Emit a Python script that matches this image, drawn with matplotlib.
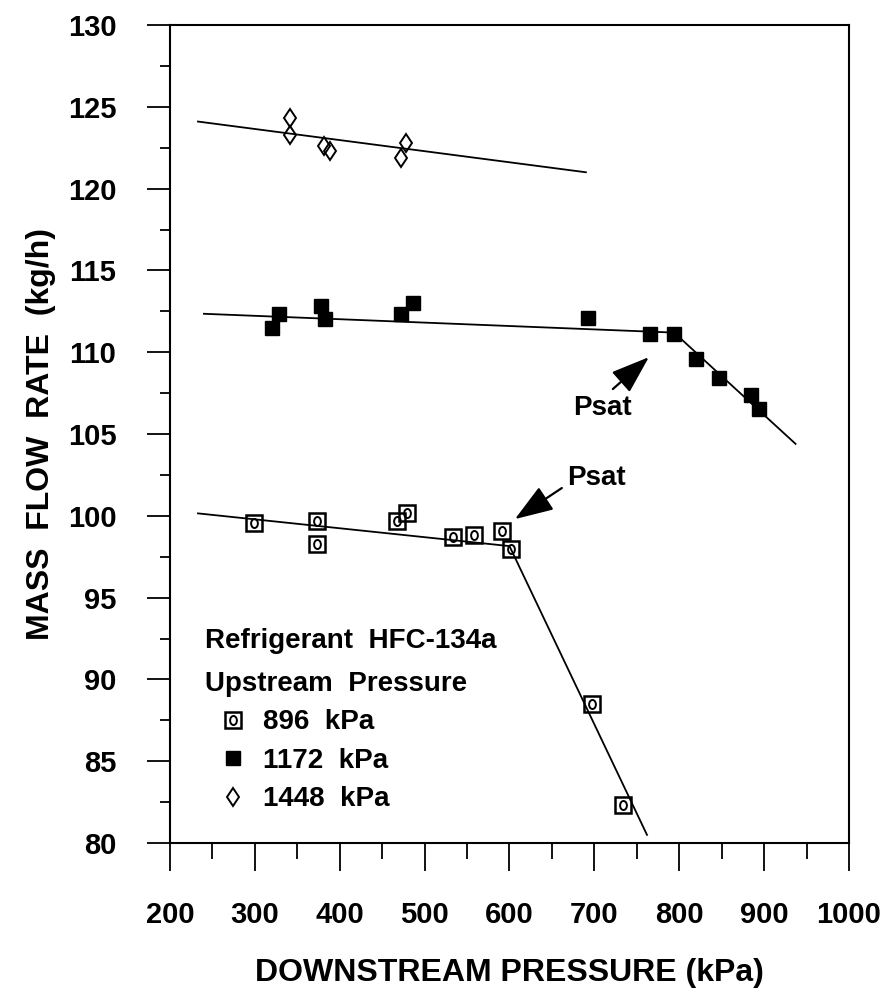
import matplotlib
matplotlib.use("Agg")
import matplotlib.pyplot as plt
from matplotlib.ticker import MultipleLocator
from matplotlib.markers import MarkerStyle
from matplotlib.transforms import Affine2D
from matplotlib.font_manager import FontProperties
from matplotlib.legend_handler import HandlerTuple

# measured points, upstream 896 kPa
p896_x = [299, 373, 373, 467, 479, 533, 558, 591, 602, 697, 734]
p896_y = [99.55, 99.7, 98.3, 99.7, 100.2, 98.7, 98.8, 99.05, 98.0, 88.5, 82.3]

# upstream 1172 kPa
p1172_x = [320, 328, 378, 383, 472, 486, 693, 766, 794, 820, 847, 885, 894]
p1172_y = [111.5, 112.35, 112.8, 112.05, 112.35, 113.0, 112.1, 111.1, 111.1,
           109.6, 108.4, 107.4, 106.5]

# upstream 1448 kPa
p1448_x = [342, 342, 381, 388, 472, 478]
p1448_y = [124.3, 123.3, 122.6, 122.3, 121.9, 122.8]

# fitted lines (break at Psat)
fit896_x = [233, 600, 762]
fit896_y = [100.15, 98.15, 80.5]
fit1172_x = [240, 794, 937]
fit1172_y = [112.35, 111.2, 104.4]
fit1448_x = [233, 690]
fit1448_y = [124.1, 121.0]

# Psat annotations: (text pos, arrow tail, arrow head)
psat_text = [(710, 106.6), (703, 102.3)]
psat_tail = [(721.8, 107.75), (661.7, 101.7)]
psat_head = [(764.2, 109.7), (606.4, 99.8)]

series_labels = ["896  kPa", "1172  kPa", "1448  kPa"]

plt.rcParams["font.family"] = ["Liberation Sans", "DejaVu Sans"]
plt.rcParams["font.weight"] = "bold"
plt.rcParams["axes.labelweight"] = "bold"

fig = plt.figure(figsize=(8.82, 10.01), dpi=100)
ax = fig.add_axes([0.1927, 0.1578, 0.7699, 0.8172])

lw_line = 1.3
ax.plot(fit896_x, fit896_y, color="black", lw=lw_line)
ax.plot(fit1172_x, fit1172_y, color="black", lw=lw_line)
ax.plot(fit1448_x, fit1448_y, color="black", lw=lw_line)

oval = MarkerStyle("o", transform=Affine2D().scale(0.75, 1.0))
h896a, = ax.plot(p896_x, p896_y, ls="none", marker="s", ms=12, mfc="none",
                 mec="black", mew=1.8)
h896b, = ax.plot(p896_x, p896_y, ls="none", marker=oval, ms=6.5, mfc="none",
                 mec="black", mew=1.4)
h1172, = ax.plot(p1172_x, p1172_y, ls="none", marker="s", ms=9.5,
                 color="black")
h1448, = ax.plot(p1448_x, p1448_y, ls="none", marker="d", ms=9.5, mfc="none",
                 mec="black", mew=1.4)

for (tx, ty), tail, head in zip(psat_text, psat_tail, psat_head):
    ax.text(tx, ty, "Psat", fontsize=20, ha="center", va="center")
    ax.annotate("", xy=head, xytext=tail,
                arrowprops=dict(arrowstyle="-|>,head_length=1.7,head_width=0.6",
                                color="black", lw=1.6, shrinkA=0, shrinkB=0,
                                mutation_scale=14))

ax.set_xlim(200, 1000)
ax.set_ylim(80, 130)
ax.xaxis.set_major_locator(MultipleLocator(100))
ax.xaxis.set_minor_locator(MultipleLocator(50))
ax.yaxis.set_major_locator(MultipleLocator(5))
ax.yaxis.set_minor_locator(MultipleLocator(2.5))

ax.tick_params(axis="x", which="major", length=20, width=1.3, pad=22,
               labelsize=21)
ax.tick_params(axis="x", which="minor", length=11.5, width=1.3)
ax.tick_params(axis="y", which="major", length=16.5, width=1.3, pad=22,
               labelsize=21)
ax.tick_params(axis="y", which="minor", length=7.5, width=1.3)
for s in ax.spines.values():
    s.set_linewidth(1.5)

ax.set_xlabel("DOWNSTREAM PRESSURE (kPa)", fontsize=23)
ax.set_ylabel("MASS  FLOW  RATE  (kg/h)", fontsize=23)
ax.xaxis.set_label_coords(0.5, -0.14)
ax.yaxis.set_label_coords(-0.168, 0.5)

leg_font = FontProperties(family="Liberation Sans", weight="bold", size=20)
leg = ax.legend([(h896a, h896b), h1172, h1448], series_labels,
                handler_map={tuple: HandlerTuple(ndivide=1)},
                title="Refrigerant  HFC-134a\nUpstream  Pressure",
                title_fontproperties=leg_font, prop=leg_font,
                loc="upper left", bbox_to_anchor=(0.0515, 0.263),
                frameon=False, borderpad=0, borderaxespad=0,
                handlelength=2.0, handletextpad=0.1, labelspacing=0.45,
                alignment="left", markerscale=1.0)
leg.get_title().set_linespacing(1.85)

fig.savefig("out.png", dpi=100)
